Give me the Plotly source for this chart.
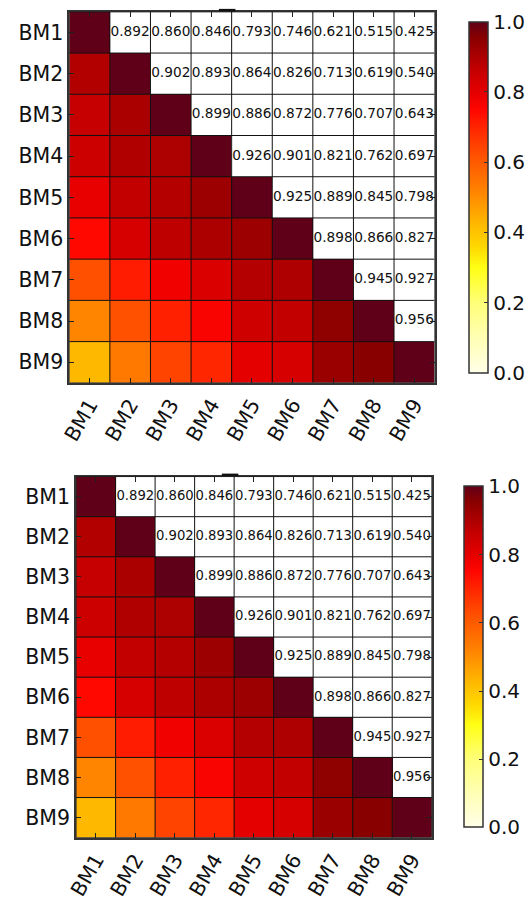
import plotly.graph_objects as go

labels = ["BM1", "BM2", "BM3", "BM4", "BM5", "BM6", "BM7", "BM8", "BM9"]

# upper-triangle correlation values, row by row (row i, columns i+1..8)
row_bm1 = [0.892, 0.860, 0.846, 0.793, 0.746, 0.621, 0.515, 0.425]
row_bm2 = [0.902, 0.893, 0.864, 0.826, 0.713, 0.619, 0.540]
row_bm3 = [0.899, 0.886, 0.872, 0.776, 0.707, 0.643]
row_bm4 = [0.926, 0.901, 0.821, 0.762, 0.697]
row_bm5 = [0.925, 0.889, 0.845, 0.798]
row_bm6 = [0.898, 0.866, 0.827]
row_bm7 = [0.945, 0.927]
row_bm8 = [0.956]
upper_rows = [row_bm1, row_bm2, row_bm3, row_bm4, row_bm5, row_bm6, row_bm7, row_bm8, []]

colorbar_ticks = [0.0, 0.2, 0.4, 0.6, 0.8, 1.0]

n = len(labels)
# full symmetric matrix
full = [[1.0] * n for _ in range(n)]
for i, row in enumerate(upper_rows):
    for k, v in enumerate(row):
        j = i + 1 + k
        full[i][j] = v
        full[j][i] = v

# lower triangle + diagonal coloured, upper shown as text
zmat = [[full[i][j] if j <= i else None for j in range(n)] for i in range(n)]
tx, ty, tt = [], [], []
for i in range(n):
    for j in range(i + 1, n):
        tx.append(j)
        ty.append(i)
        tt.append(f"{full[i][j]:.3f}")

cscale = [
    [0.0, "#ffffe8"], [0.1, "#ffffb4"], [0.2, "#ffff78"], [0.3, "#ffff14"],
    [0.36, "#ffd800"], [0.425, "#ffb800"], [0.515, "#ff8500"], [0.54, "#ff7800"],
    [0.621, "#ff5000"], [0.707, "#ff2000"], [0.75, "#ff0600"], [0.793, "#e80000"],
    [0.86, "#c60000"], [0.926, "#9c0000"], [0.956, "#880000"], [1.0, "#600018"],
]

FONT = "DejaVu Sans"
fig = go.Figure()

panels = [
    dict(x0=61, x1=437, yt=12, yb=388, cbx=472, cbt=22, cbb=378, ts=13.7, bar=(215, 232)),
    dict(x0=68, x1=434, yt=483, yb=849, cbx=467, cbt=493, cbb=839, ts=13.2, bar=(218, 235)),
]
W, H = 530, 900
shapes = []
for p_i, p in enumerate(panels):
    sfx = "" if p_i == 0 else str(p_i + 1)
    xa, ya = "x" + sfx, "y" + sfx
    fig.add_trace(go.Heatmap(
        z=zmat, x=list(range(n)), y=list(range(n)),
        zmin=0, zmax=1, colorscale=cscale, xaxis=xa, yaxis=ya,
        hoverongaps=False,
        colorbar=dict(
            x=p["cbx"] / W, xanchor="left", xpad=0, ypad=0,
            y=1 - p["cbt"] / H, yanchor="top", len=(p["cbb"] - p["cbt"]) / H, lenmode="fraction",
            thickness=19, outlinewidth=1.5, outlinecolor="#333",
            tickvals=colorbar_ticks, ticktext=[f"{t:.1f}" for t in colorbar_ticks],
            ticks="inside", ticklen=4, tickcolor="#333",
            tickfont=dict(family=FONT, size=20, color="#111"),
        ),
    ))
    fig.add_trace(go.Scatter(
        x=tx, y=ty, text=tt, mode="text", xaxis=xa, yaxis=ya,
        textfont=dict(family=FONT, size=p["ts"], color="#111"),
        hoverinfo="skip", showlegend=False,
    ))
    for k in range(n + 1):
        shapes.append(dict(type="line", xref=xa, yref=ya, x0=k - 0.5, x1=k - 0.5, y0=-0.5, y1=n - 0.5,
                           line=dict(color="#111", width=1), layer="above"))
        shapes.append(dict(type="line", xref=xa, yref=ya, y0=k - 0.5, y1=k - 0.5, x0=-0.5, x1=n - 0.5,
                           line=dict(color="#111", width=1), layer="above"))
    shapes.append(dict(type="rect", xref="paper", yref="paper",
                       x0=p["bar"][0] / W, x1=p["bar"][1] / W,
                       y0=1 - (p["yt"] - 0.5) / H, y1=1 - (p["yt"] - 3) / H,
                       fillcolor="#111", line=dict(width=0)))
    axcommon = dict(showline=True, linecolor="#333", linewidth=2, mirror="allticks",
                    ticks="inside", ticklen=5, tickcolor="#222", showgrid=False, zeroline=False,
                    tickvals=list(range(n)), ticktext=labels,
                    tickfont=dict(family=FONT, size=20.5, color="#111"))
    fig.update_layout(**{
        "xaxis" + sfx: dict(domain=[p["x0"] / W, p["x1"] / W], range=[-0.5, n - 0.5],
                            anchor=ya, tickangle=-60, **axcommon),
        "yaxis" + sfx: dict(domain=[1 - p["yb"] / H, 1 - p["yt"] / H], range=[n - 0.5, -0.5],
                            anchor=xa, **axcommon),
    })

fig.update_layout(width=W, height=H, margin=dict(l=0, r=0, t=0, b=0),
                  paper_bgcolor="white", plot_bgcolor="white", showlegend=False,
                  shapes=shapes)
fig.write_html("out.html")
